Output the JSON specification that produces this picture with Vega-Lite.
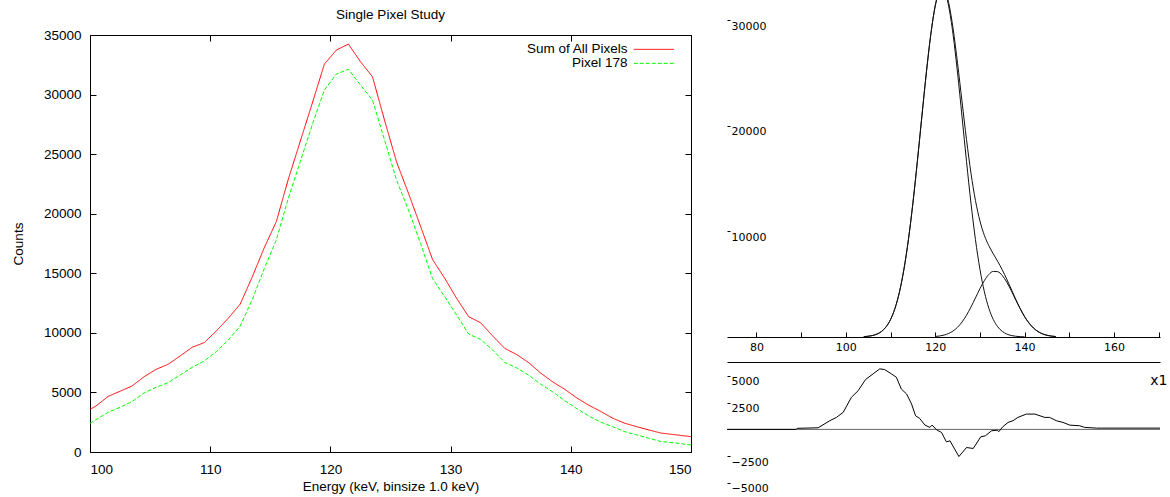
{
  "$schema": "https://vega.github.io/schema/vega-lite/v6.json",
  "background": "white",
  "padding": {"left": 11, "top": 0, "right": 0, "bottom": 0},
  "spacing": 32,
  "config": {
    "view": {"stroke": null},
    "font": "Liberation Sans",
    "axis": {"grid": false, "domainColor": "black", "tickColor": "black", "labelColor": "black", "titleColor": "black", "labelFont": "Liberation Sans", "labelFontSize": 13.5, "titleFont": "Liberation Sans", "titleFontSize": 13.5, "titleFontWeight": "normal"}
  },
  "datasets": {
    "spectra": [
      {"e": 100, "v": 3584, "s": "Sum of All Pixels"},
      {"e": 100.5, "v": 3860, "s": "Sum of All Pixels"},
      {"e": 101.5, "v": 4660, "s": "Sum of All Pixels"},
      {"e": 102.5, "v": 5100, "s": "Sum of All Pixels"},
      {"e": 103.5, "v": 5540, "s": "Sum of All Pixels"},
      {"e": 104.5, "v": 6320, "s": "Sum of All Pixels"},
      {"e": 105.5, "v": 6940, "s": "Sum of All Pixels"},
      {"e": 106.5, "v": 7360, "s": "Sum of All Pixels"},
      {"e": 107.5, "v": 8060, "s": "Sum of All Pixels"},
      {"e": 108.5, "v": 8790, "s": "Sum of All Pixels"},
      {"e": 109.5, "v": 9180, "s": "Sum of All Pixels"},
      {"e": 110.5, "v": 10150, "s": "Sum of All Pixels"},
      {"e": 111.5, "v": 11220, "s": "Sum of All Pixels"},
      {"e": 112.5, "v": 12420, "s": "Sum of All Pixels"},
      {"e": 113.5, "v": 14700, "s": "Sum of All Pixels"},
      {"e": 114.5, "v": 17150, "s": "Sum of All Pixels"},
      {"e": 115.5, "v": 19330, "s": "Sum of All Pixels"},
      {"e": 116.5, "v": 22900, "s": "Sum of All Pixels"},
      {"e": 117.5, "v": 26100, "s": "Sum of All Pixels"},
      {"e": 118.5, "v": 29300, "s": "Sum of All Pixels"},
      {"e": 119.5, "v": 32560, "s": "Sum of All Pixels"},
      {"e": 120.5, "v": 33740, "s": "Sum of All Pixels"},
      {"e": 121.5, "v": 34240, "s": "Sum of All Pixels"},
      {"e": 122.5, "v": 32760, "s": "Sum of All Pixels"},
      {"e": 123.5, "v": 31500, "s": "Sum of All Pixels"},
      {"e": 124.5, "v": 27860, "s": "Sum of All Pixels"},
      {"e": 125.5, "v": 24360, "s": "Sum of All Pixels"},
      {"e": 126.5, "v": 21700, "s": "Sum of All Pixels"},
      {"e": 127.5, "v": 18950, "s": "Sum of All Pixels"},
      {"e": 128.5, "v": 16150, "s": "Sum of All Pixels"},
      {"e": 129.5, "v": 14600, "s": "Sum of All Pixels"},
      {"e": 130.5, "v": 12900, "s": "Sum of All Pixels"},
      {"e": 131.5, "v": 11360, "s": "Sum of All Pixels"},
      {"e": 132.5, "v": 10850, "s": "Sum of All Pixels"},
      {"e": 133.5, "v": 9740, "s": "Sum of All Pixels"},
      {"e": 134.5, "v": 8700, "s": "Sum of All Pixels"},
      {"e": 135.5, "v": 8180, "s": "Sum of All Pixels"},
      {"e": 136.5, "v": 7500, "s": "Sum of All Pixels"},
      {"e": 137.5, "v": 6620, "s": "Sum of All Pixels"},
      {"e": 138.5, "v": 5880, "s": "Sum of All Pixels"},
      {"e": 139.5, "v": 5260, "s": "Sum of All Pixels"},
      {"e": 140.5, "v": 4540, "s": "Sum of All Pixels"},
      {"e": 141.5, "v": 3920, "s": "Sum of All Pixels"},
      {"e": 142.5, "v": 3400, "s": "Sum of All Pixels"},
      {"e": 143.5, "v": 2830, "s": "Sum of All Pixels"},
      {"e": 144.5, "v": 2410, "s": "Sum of All Pixels"},
      {"e": 145.5, "v": 2120, "s": "Sum of All Pixels"},
      {"e": 146.5, "v": 1850, "s": "Sum of All Pixels"},
      {"e": 147.5, "v": 1590, "s": "Sum of All Pixels"},
      {"e": 148.5, "v": 1470, "s": "Sum of All Pixels"},
      {"e": 149.5, "v": 1350, "s": "Sum of All Pixels"},
      {"e": 150, "v": 1290, "s": "Sum of All Pixels"},
      {"e": 100, "v": 2410, "s": "Pixel 178"},
      {"e": 101.5, "v": 3330, "s": "Pixel 178"},
      {"e": 102.5, "v": 3750, "s": "Pixel 178"},
      {"e": 103.5, "v": 4240, "s": "Pixel 178"},
      {"e": 104.5, "v": 4960, "s": "Pixel 178"},
      {"e": 105.5, "v": 5430, "s": "Pixel 178"},
      {"e": 106.5, "v": 5820, "s": "Pixel 178"},
      {"e": 107.5, "v": 6460, "s": "Pixel 178"},
      {"e": 108.5, "v": 7110, "s": "Pixel 178"},
      {"e": 109.5, "v": 7640, "s": "Pixel 178"},
      {"e": 110.5, "v": 8420, "s": "Pixel 178"},
      {"e": 111.5, "v": 9400, "s": "Pixel 178"},
      {"e": 112.5, "v": 10580, "s": "Pixel 178"},
      {"e": 113.5, "v": 12800, "s": "Pixel 178"},
      {"e": 114.5, "v": 15400, "s": "Pixel 178"},
      {"e": 115.5, "v": 17800, "s": "Pixel 178"},
      {"e": 116.5, "v": 21300, "s": "Pixel 178"},
      {"e": 117.5, "v": 24400, "s": "Pixel 178"},
      {"e": 118.5, "v": 27500, "s": "Pixel 178"},
      {"e": 119.5, "v": 30380, "s": "Pixel 178"},
      {"e": 120.5, "v": 31730, "s": "Pixel 178"},
      {"e": 121.5, "v": 32120, "s": "Pixel 178"},
      {"e": 122.5, "v": 30800, "s": "Pixel 178"},
      {"e": 123.5, "v": 29540, "s": "Pixel 178"},
      {"e": 124.5, "v": 26200, "s": "Pixel 178"},
      {"e": 125.5, "v": 22830, "s": "Pixel 178"},
      {"e": 126.5, "v": 20300, "s": "Pixel 178"},
      {"e": 127.5, "v": 17500, "s": "Pixel 178"},
      {"e": 128.5, "v": 14550, "s": "Pixel 178"},
      {"e": 129.5, "v": 13050, "s": "Pixel 178"},
      {"e": 130.5, "v": 11500, "s": "Pixel 178"},
      {"e": 131.5, "v": 9900, "s": "Pixel 178"},
      {"e": 132.5, "v": 9450, "s": "Pixel 178"},
      {"e": 133.5, "v": 8560, "s": "Pixel 178"},
      {"e": 134.5, "v": 7520, "s": "Pixel 178"},
      {"e": 135.5, "v": 7060, "s": "Pixel 178"},
      {"e": 136.5, "v": 6440, "s": "Pixel 178"},
      {"e": 137.5, "v": 5690, "s": "Pixel 178"},
      {"e": 138.5, "v": 5040, "s": "Pixel 178"},
      {"e": 139.5, "v": 4300, "s": "Pixel 178"},
      {"e": 140.5, "v": 3640, "s": "Pixel 178"},
      {"e": 141.5, "v": 3020, "s": "Pixel 178"},
      {"e": 142.5, "v": 2500, "s": "Pixel 178"},
      {"e": 143.5, "v": 2120, "s": "Pixel 178"},
      {"e": 144.5, "v": 1700, "s": "Pixel 178"},
      {"e": 145.5, "v": 1430, "s": "Pixel 178"},
      {"e": 146.5, "v": 1150, "s": "Pixel 178"},
      {"e": 147.5, "v": 880, "s": "Pixel 178"},
      {"e": 148.5, "v": 780, "s": "Pixel 178"},
      {"e": 149.5, "v": 650, "s": "Pixel 178"},
      {"e": 150, "v": 590, "s": "Pixel 178"}
    ],
    "fit": [
      {"x": 104, "v": 32, "c": "total"}, {"x": 105, "v": 70, "c": "total"}, {"x": 106, "v": 144, "c": "total"},
      {"x": 107, "v": 283, "c": "total"}, {"x": 108, "v": 533, "c": "total"}, {"x": 109, "v": 961, "c": "total"},
      {"x": 110, "v": 1655, "c": "total"}, {"x": 111, "v": 2721, "c": "total"}, {"x": 112, "v": 4280, "c": "total"},
      {"x": 113, "v": 6433, "c": "total"}, {"x": 114, "v": 9237, "c": "total"}, {"x": 115, "v": 12682, "c": "total"},
      {"x": 116, "v": 16642, "c": "total"}, {"x": 117, "v": 20866, "c": "total"}, {"x": 118, "v": 25007, "c": "total"},
      {"x": 119, "v": 28647, "c": "total"}, {"x": 120, "v": 31409, "c": "total"}, {"x": 120.5, "v": 32332, "c": "total"},
      {"x": 121, "v": 32912, "c": "total"}, {"x": 121.5, "v": 33135, "c": "total"}, {"x": 122, "v": 33000, "c": "total"},
      {"x": 122.5, "v": 32512, "c": "total"}, {"x": 123, "v": 31695, "c": "total"}, {"x": 124, "v": 29220, "c": "total"},
      {"x": 125, "v": 25934, "c": "total"}, {"x": 126, "v": 22288, "c": "total"}, {"x": 127, "v": 18707, "c": "total"},
      {"x": 128, "v": 15523, "c": "total"}, {"x": 129, "v": 12940, "c": "total"}, {"x": 130, "v": 11006, "c": "total"},
      {"x": 131, "v": 9628, "c": "total"}, {"x": 132, "v": 8649, "c": "total"}, {"x": 133, "v": 7878, "c": "total"},
      {"x": 134, "v": 7150, "c": "total"}, {"x": 135, "v": 6365, "c": "total"}, {"x": 136, "v": 5489, "c": "total"},
      {"x": 137, "v": 4547, "c": "total"}, {"x": 138, "v": 3597, "c": "total"}, {"x": 139, "v": 2709, "c": "total"},
      {"x": 140, "v": 1938, "c": "total"}, {"x": 141, "v": 1311, "c": "total"}, {"x": 142, "v": 846, "c": "total"},
      {"x": 143, "v": 517, "c": "total"}, {"x": 144, "v": 300, "c": "total"}, {"x": 145, "v": 164, "c": "total"},
      {"x": 146, "v": 85, "c": "total"}, {"x": 147, "v": 42, "c": "total"},
      {"x": 104, "v": 32, "c": "g1"}, {"x": 105, "v": 70, "c": "g1"}, {"x": 106, "v": 144, "c": "g1"},
      {"x": 107, "v": 283, "c": "g1"}, {"x": 108, "v": 533, "c": "g1"}, {"x": 109, "v": 961, "c": "g1"},
      {"x": 110, "v": 1655, "c": "g1"}, {"x": 111, "v": 2721, "c": "g1"}, {"x": 112, "v": 4280, "c": "g1"},
      {"x": 113, "v": 6433, "c": "g1"}, {"x": 114, "v": 9237, "c": "g1"}, {"x": 115, "v": 12682, "c": "g1"},
      {"x": 116, "v": 16642, "c": "g1"}, {"x": 117, "v": 20866, "c": "g1"}, {"x": 118, "v": 25007, "c": "g1"},
      {"x": 119, "v": 28647, "c": "g1"}, {"x": 120, "v": 31360, "c": "g1"}, {"x": 120.5, "v": 32262, "c": "g1"},
      {"x": 121, "v": 32814, "c": "g1"}, {"x": 121.5, "v": 33000, "c": "g1"}, {"x": 122, "v": 32814, "c": "g1"},
      {"x": 122.5, "v": 32262, "c": "g1"}, {"x": 123, "v": 31360, "c": "g1"}, {"x": 124, "v": 28647, "c": "g1"},
      {"x": 125, "v": 25007, "c": "g1"}, {"x": 126, "v": 20866, "c": "g1"}, {"x": 127, "v": 16642, "c": "g1"},
      {"x": 128, "v": 12682, "c": "g1"}, {"x": 129, "v": 9237, "c": "g1"}, {"x": 130, "v": 6433, "c": "g1"},
      {"x": 131, "v": 4280, "c": "g1"}, {"x": 132, "v": 2721, "c": "g1"}, {"x": 133, "v": 1655, "c": "g1"},
      {"x": 134, "v": 961, "c": "g1"}, {"x": 135, "v": 533, "c": "g1"}, {"x": 136, "v": 283, "c": "g1"},
      {"x": 137, "v": 144, "c": "g1"}, {"x": 138, "v": 70, "c": "g1"}, {"x": 139, "v": 32, "c": "g1"},
      {"x": 140, "v": 14, "c": "g1"},
      {"x": 120, "v": 49, "c": "g2"}, {"x": 121, "v": 98, "c": "g2"}, {"x": 122, "v": 186, "c": "g2"},
      {"x": 123, "v": 335, "c": "g2"}, {"x": 124, "v": 573, "c": "g2"}, {"x": 125, "v": 927, "c": "g2"},
      {"x": 126, "v": 1422, "c": "g2"}, {"x": 127, "v": 2065, "c": "g2"}, {"x": 128, "v": 2841, "c": "g2"},
      {"x": 129, "v": 3703, "c": "g2"}, {"x": 130, "v": 4573, "c": "g2"}, {"x": 131, "v": 5348, "c": "g2"},
      {"x": 132, "v": 5928, "c": "g2"}, {"x": 133, "v": 6223, "c": "g2"}, {"x": 134, "v": 6189, "c": "g2"},
      {"x": 135, "v": 5832, "c": "g2"}, {"x": 136, "v": 5206, "c": "g2"}, {"x": 137, "v": 4403, "c": "g2"},
      {"x": 138, "v": 3527, "c": "g2"}, {"x": 139, "v": 2677, "c": "g2"}, {"x": 140, "v": 1924, "c": "g2"},
      {"x": 141, "v": 1311, "c": "g2"}, {"x": 142, "v": 846, "c": "g2"}, {"x": 143, "v": 517, "c": "g2"},
      {"x": 144, "v": 300, "c": "g2"}, {"x": 145, "v": 164, "c": "g2"}, {"x": 146, "v": 85, "c": "g2"},
      {"x": 147, "v": 42, "c": "g2"}
    ],
    "resid": [
      {"x": 73.4, "r": 0}, {"x": 88.9, "r": 0}, {"x": 89.1, "r": 100}, {"x": 93.8, "r": 150},
      {"x": 96.4, "r": 810}, {"x": 97.9, "r": 1120}, {"x": 99.4, "r": 1590}, {"x": 101.25, "r": 3000},
      {"x": 102.75, "r": 3610}, {"x": 104.4, "r": 4650}, {"x": 106.1, "r": 5180}, {"x": 107.6, "r": 5650},
      {"x": 108.7, "r": 5580}, {"x": 110.2, "r": 5180}, {"x": 111.3, "r": 4870}, {"x": 112.4, "r": 3770},
      {"x": 113.6, "r": 3300}, {"x": 114.7, "r": 2370}, {"x": 115.6, "r": 1270}, {"x": 116.5, "r": 1030},
      {"x": 117.7, "r": 400}, {"x": 118.8, "r": 190}, {"x": 119.3, "r": 400}, {"x": 120.3, "r": -40},
      {"x": 121.4, "r": -280}, {"x": 122.5, "r": -1160}, {"x": 123.3, "r": -1070}, {"x": 125.3, "r": -2530},
      {"x": 127.0, "r": -1690}, {"x": 128.5, "r": -1780}, {"x": 130.2, "r": -690}, {"x": 131.2, "r": -600},
      {"x": 132.6, "r": -130}, {"x": 133.9, "r": -70}, {"x": 134.2, "r": -220}, {"x": 135.2, "r": 280},
      {"x": 136.3, "r": 650}, {"x": 137.4, "r": 810}, {"x": 138.5, "r": 1120}, {"x": 140.4, "r": 1430},
      {"x": 142.3, "r": 1430}, {"x": 144.5, "r": 1120}, {"x": 145.6, "r": 1120}, {"x": 147.1, "r": 810},
      {"x": 148.6, "r": 650}, {"x": 150.1, "r": 400}, {"x": 152.3, "r": 340}, {"x": 153.4, "r": 190},
      {"x": 156.1, "r": 120}, {"x": 170.3, "r": 120}
    ]
  },
  "hconcat": [
    {
      "spacing": 0,
      "vconcat": [
        {
          "width": 1,
          "height": 8,
          "data": {"values": [{"k": 0}]},
          "mark": {"type": "point", "opacity": 0}
        },
        {
          "width": 601,
          "height": 417,
          "title": {"text": "Single Pixel Study", "fontSize": 13.5, "fontWeight": "normal", "font": "Liberation Sans", "color": "black", "offset": 6.5},
          "data": {"name": "spectra"},
          "layer": [
            {
              "mark": {"type": "line", "strokeWidth": 1, "clip": true},
              "encoding": {
                "x": {"field": "e", "type": "quantitative",
                  "scale": {"domain": [100, 150], "nice": false, "zero": false},
                  "axis": {"orient": "bottom", "values": [100, 110, 120, 130, 140, 150], "tickSize": -6, "labelPadding": 16.5, "title": "Energy (keV, binsize 1.0 keV)", "titlePadding": 3}},
                "y": {"field": "v", "type": "quantitative",
                  "scale": {"domain": [0, 35000], "nice": false},
                  "axis": {"orient": "left", "values": [0, 5000, 10000, 15000, 20000, 25000, 30000, 35000], "format": "d", "tickSize": -6, "labelPadding": 15, "title": "Counts", "titlePadding": 18}},
                "color": {"field": "s", "type": "nominal",
                  "scale": {"domain": ["Sum of All Pixels", "Pixel 178"], "range": ["#ff0000", "#00ff00"]},
                  "legend": {"title": null, "orient": "none", "legendX": 557, "legendY": 42.6, "symbolType": "M-4,0H4", "symbolSize": 100, "symbolStrokeWidth": 1, "labelAlign": "right", "labelOffset": -33, "labelFont": "Liberation Sans", "labelFontSize": 13.5, "labelColor": "black", "rowPadding": -1, "padding": 0, "labelLimit": 300}},
                "strokeDash": {"field": "s", "type": "nominal",
                  "scale": {"domain": ["Sum of All Pixels", "Pixel 178"], "range": [[1, 0], [4, 2]]},
                  "legend": {"title": null, "orient": "none", "legendX": 557, "legendY": 42.6, "symbolType": "M-4,0H4", "symbolSize": 100, "symbolStrokeWidth": 1, "labelAlign": "right", "labelOffset": -33, "labelFont": "Liberation Sans", "labelFontSize": 13.5, "labelColor": "black", "rowPadding": -1, "padding": 0, "labelLimit": 300}}
              }
            },
            {
              "mark": {"type": "point", "opacity": 0},
              "encoding": {
                "x": {"field": "e", "type": "quantitative", "axis": {"orient": "top", "values": [100, 110, 120, 130, 140, 150], "tickSize": -6, "labels": false, "title": null}},
                "y": {"field": "v", "type": "quantitative", "axis": {"orient": "right", "values": [0, 5000, 10000, 15000, 20000, 25000, 30000, 35000], "tickSize": -6, "labels": false, "title": null}}
              }
            }
          ],
          "resolve": {"axis": {"x": "independent", "y": "independent"}}
        }
      ]
    },
    {
      "spacing": 10,
      "vconcat": [
        {
          "width": 433,
          "height": 337,
          "data": {"name": "fit"},
          "mark": {"type": "line", "strokeWidth": 1, "color": "#111111", "clip": true, "interpolate": "monotone"},
          "encoding": {
            "x": {"field": "x", "type": "quantitative",
              "scale": {"domain": [73.4, 170.3], "nice": false, "zero": false},
              "axis": {"orient": "bottom", "values": [80, 90, 100, 110, 120, 130, 140, 150, 160, 170], "labelExpr": "datum.value % 20 == 0 ? datum.label : ''", "tickSize": -5, "labelPadding": 9, "labelDx": 3, "labelFont": "DejaVu Sans", "labelFontSize": 11, "title": null}},
            "y": {"field": "v", "type": "quantitative",
              "scale": {"domain": [0, 31940], "nice": false},
              "axis": {"orient": "left", "values": [10000, 20000, 30000], "format": "d", "domain": false, "tickSize": -3, "labelPadding": -1, "labelAlign": "left", "labelBaseline": "top", "labelDy": -1.5, "labelFont": "DejaVu Sans", "labelFontSize": 11, "title": null}},
            "detail": {"field": "c", "type": "nominal"}
          }
        },
        {
          "width": 433,
          "height": 135,
          "layer": [
            {
              "data": {"values": [{"z": 0}]},
              "mark": {"type": "rule", "color": "#666666", "strokeWidth": 1},
              "encoding": {
                "y": {"field": "z", "type": "quantitative", "scale": {"domain": [-6306, 6287], "nice": false},
                  "axis": {"orient": "right", "domain": false, "ticks": false, "labels": false, "title": "x1", "titleAngle": 0, "titleX": -10.3, "titleY": 18.4, "titleAlign": "left", "titleBaseline": "middle", "titleFont": "DejaVu Sans", "titleFontSize": 14, "titleFontWeight": "normal"}}
              }
            },
            {
              "data": {"name": "resid"},
              "mark": {"type": "line", "strokeWidth": 1, "color": "black", "clip": true},
              "encoding": {
                "x": {"field": "x", "type": "quantitative",
                  "scale": {"domain": [73.4, 170.3], "nice": false, "zero": false},
                  "axis": {"orient": "top", "ticks": false, "labels": false, "title": null}},
                "y": {"field": "r", "type": "quantitative", "scale": {"domain": [-6306, 6287], "nice": false},
                  "axis": {"orient": "left", "values": [-5000, -2500, 2500, 5000], "format": "d", "domain": false, "tickSize": -3, "labelPadding": -1, "labelAlign": "left", "labelBaseline": "top", "labelDy": -1, "labelFont": "DejaVu Sans", "labelFontSize": 11, "title": null}}
              }
            }
          ],
          "resolve": {"axis": {"y": "independent"}}
        }
      ]
    }
  ]
}
